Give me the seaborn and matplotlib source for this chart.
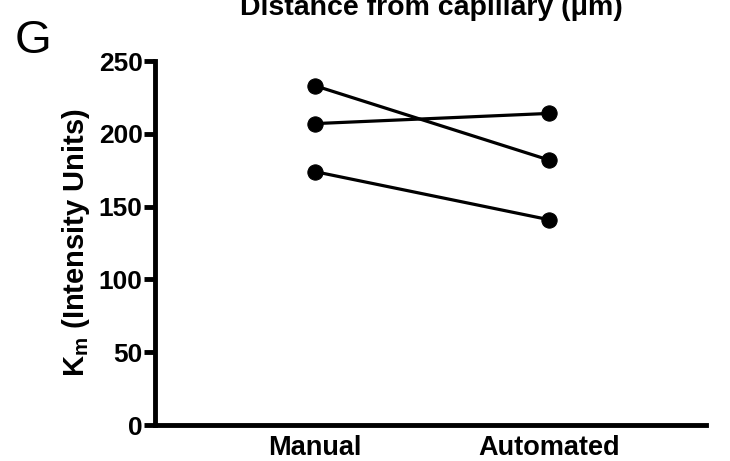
import matplotlib
matplotlib.use("Agg")
import matplotlib.pyplot as plt
import seaborn as sns
import pandas as pd

categories = ["Manual", "Automated"]
subject_ids = ["s1", "s2", "s3"]
manual_vals = [233, 207, 174]
automated_vals = [182, 214, 141]
y_ticks = [0, 50, 100, 150, 200, 250]

rows = []
for sid, m, a in zip(subject_ids, manual_vals, automated_vals):
    rows.append({"subject": sid, "method": categories[0], "value": m})
    rows.append({"subject": sid, "method": categories[1], "value": a})
df = pd.DataFrame(rows)

sns.set_theme(style="ticks")
plt.rcParams["font.family"] = ["Liberation Sans", "DejaVu Sans"]
plt.rcParams["mathtext.fontset"] = "custom"
plt.rcParams["mathtext.rm"] = "Liberation Sans"
plt.rcParams["mathtext.bf"] = "Liberation Sans:bold"
for k in ["text.color", "axes.labelcolor", "xtick.color", "ytick.color", "axes.edgecolor"]:
    plt.rcParams[k] = "black"

fig = plt.figure(figsize=(7.3, 4.61), dpi=100)
ax = fig.add_axes([155/730, 1-425/461, (706-155)/730, (425-61)/461])

sns.lineplot(data=df, x="method", y="value", units="subject", estimator=None,
             color="black", linewidth=2.3, marker="o", markersize=11,
             markeredgecolor="black", ax=ax, sort=False)

ax.set_ylim(0, 250)
ax.set_xlim(-0.684, 1.671)
ax.set_yticks(y_ticks)
ax.set_yticklabels([str(t) for t in y_ticks], fontsize=19, fontweight="bold")
ax.set_xticks([0, 1])
ax.set_xticklabels(categories, fontsize=19.5, fontweight="bold")
ax.tick_params(axis="x", length=0, pad=7)
ax.tick_params(axis="y", length=8, width=3.5, pad=1)
for s in ["top", "right"]:
    ax.spines[s].set_visible(False)
for s in ["left", "bottom"]:
    ax.spines[s].set_linewidth(3.5)
ax.set_xlabel("")
ax.set_ylabel(r"$\mathbf{K_m}$ (Intensity Units)", fontsize=21, fontweight="bold", labelpad=5)

fig.text(431/730, 1-15/461, "Distance from capillary (μm)", ha="center", va="baseline",
         fontsize=20.5, fontweight="bold")
fig.text(15/730, 1-53/461, "G", ha="left", va="baseline", fontsize=34)

fig.savefig("out.png", dpi=100)
